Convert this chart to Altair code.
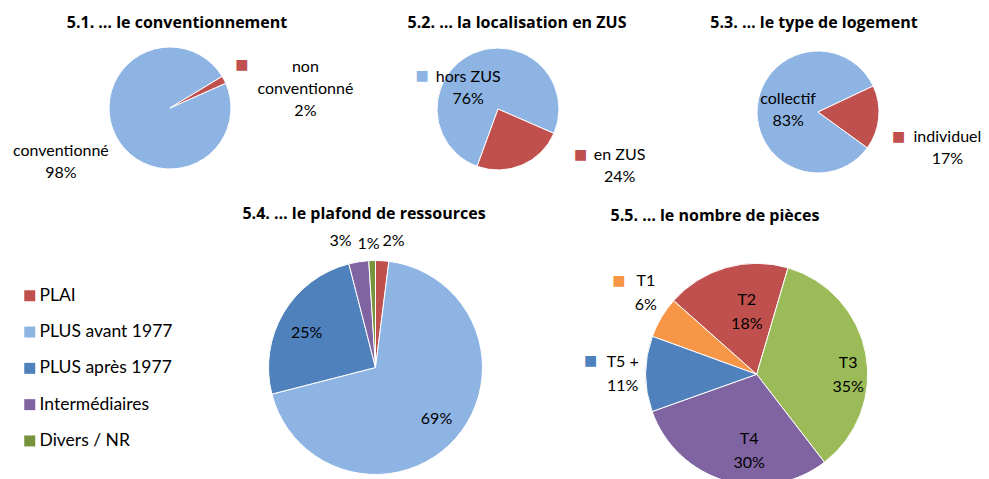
import math
import altair as alt
import pandas as pd

# ---------------- data ----------------
conv_cats = ["conventionné", "non conventionné"]
conv_vals = [98, 2]
zus_cats = ["hors ZUS", "en ZUS"]
zus_vals = [76, 24]
log_cats = ["collectif", "individuel"]
log_vals = [83, 17]
plaf_cats = ["PLAI", "PLUS avant 1977", "PLUS après 1977", "Intermédiaires", "Divers / NR"]
plaf_vals = [2, 69, 25, 3, 1]
pieces_cats = ["T1", "T2", "T3", "T4", "T5 +"]
pieces_vals = [6, 18, 35, 30, 11]
titles = [
    "5.1. … le conventionnement",
    "5.2. … la localisation en ZUS",
    "5.3.  … le type de logement",
    "5.4.  … le plafond de ressources",
    "5.5. … le nombre de pièces",
]

# ---------------- styles ----------------
LBLUE, RED, BLUE, PURPLE, GREEN, DGREEN, ORANGE = (
    "#8EB4E3", "#C0504D", "#4F81BD", "#8064A2", "#9BBB59", "#77933C", "#F79646")
FONT = "Lato"
TFONT = "Open Sans"
WRAP = {"non conventionné": "non\nconventionné"}


def make_labels(cats, vals, with_cat=True):
    out = []
    for c, v in zip(cats, vals):
        if with_cat:
            out.append(WRAP.get(c, c) + "\n" + f"{v}%")
        else:
            out.append(f"{v}%")
    return out


def pie(cats, vals, colors, cx, cy, r, start_deg, labels, label_specs,
        square_specs=(), legend=None, line_h=22):
    df = pd.DataFrame({"cat": cats, "val": vals, "idx": list(range(len(cats))),
                       "label": labels, "col": colors})
    a0 = math.radians(start_deg)
    base = alt.Chart(df).encode(
        theta=alt.Theta("val:Q", stack=True,
                        scale=alt.Scale(range=[a0, a0 + 2 * math.pi])),
        order=alt.Order("idx:Q"),
        x=alt.value(cx), y=alt.value(cy),
    )
    if legend is None:
        color = alt.Color("col:N", scale=None)
    else:
        color = alt.Color("cat:N", sort=cats,
                          scale=alt.Scale(domain=cats, range=colors),
                          legend=legend)
    layers = [base.mark_arc(outerRadius=r, stroke="white", strokeWidth=1).encode(color=color)]
    for cat, rad, dx, dy in label_specs:
        layers.append(
            base.mark_text(radius=rad, dx=dx, dy=dy, font=FONT, fontSize=16,
                           lineBreak="\n", lineHeight=line_h, align="center",
                           baseline="middle", color="#000000").encode(
                text=alt.condition(alt.datum.cat == cat, alt.Text("label:N"), alt.value(""))
            )
        )
    for cat, rad, dx, dy in square_specs:
        layers.append(
            base.mark_text(radius=rad, dx=dx, dy=dy, font="DejaVu Sans", fontSize=14,
                           align="center", baseline="middle").encode(
                text=alt.condition(alt.datum.cat == cat, alt.value("■"), alt.value("")),
                color=alt.Color("col:N", scale=None),
            )
        )
    return alt.layer(*layers)


def title(txt, x, y):
    return alt.Chart(pd.DataFrame({"t": [txt]})).mark_text(
        font=TFONT, fontSize=16, fontWeight="bold", align="center",
        baseline="alphabetic", color="#000000").encode(
        text="t:N", x=alt.value(x), y=alt.value(y))


p1 = pie(conv_cats, conv_vals, [LBLUE, RED], 170, 108, 61, 66,
         make_labels(conv_cats, conv_vals),
         [("conventionné", 122, -1, -14), ("non conventionné", 137, 14, 22)],
         [("non conventionné", 81, 0, -5)])
p2 = pie(zus_cats, zus_vals, [LBLUE, RED], 498, 109, 61, 200,
         make_labels(zus_cats, zus_vals),
         [("hors ZUS", 25, -20, -9), ("en ZUS", 70, 94, -18)],
         [("hors ZUS", 25, -66, -10), ("en ZUS", 70, 55, -18)])
p3 = pie(log_cats, log_vals, [LBLUE, RED], 818, 112, 61, 126,
         make_labels(log_cats, log_vals),
         [("collectif", 30, 0, -10), ("individuel", 130, 0, 13)],
         [("individuel", 81, 0, 17)])
leg = alt.Legend(title=None, orient="none", legendX=21, legendY=287,
                 symbolType="square", symbolSize=121, symbolStrokeWidth=0,
                 labelFont=FONT, labelFontSize=17.5, labelColor="#000000",
                 rowPadding=17.3, labelOffset=1)
p4 = pie(plaf_cats, plaf_vals, [RED, LBLUE, BLUE, PURPLE, DGREEN], 375.5, 367.5, 107, 0,
         make_labels(plaf_cats, plaf_vals, with_cat=False),
         [("PLAI", 127, 10, 0), ("PLUS avant 1977", 80, 1, -1),
          ("PLUS après 1977", 80, 0, 6), ("Intermédiaires", 128, -15, 0),
          ("Divers / NR", 124, -3, 0)],
         legend=leg)
p5 = pie(pieces_cats, pieces_vals, [ORANGE, RED, GREEN, PURPLE, BLUE], 756.7, 374.3, 111, 290,
         make_labels(pieces_cats, pieces_vals),
         [("T1", 150, 18, -16), ("T2", 65, 8, -12), ("T3", 93, 0, 6),
          ("T4", 80, 15, -12), ("T5 +", 134, 0, -12)],
         [("T1", 150, -9, -16), ("T5 +", 134, -32, -13)], line_h=24)

t = [title(titles[0], 177, 28), title(titles[1], 517, 28), title(titles[2], 814, 28),
     title(titles[3], 364, 219), title(titles[4], 715, 221)]

chart = alt.layer(p1, p2, p3, p4, p5, *t).resolve_scale(
    theta="independent", color="independent"
).properties(
    width=989, height=479, autosize=alt.AutoSizeParams(type="none"), padding=0,
    background="white"
).configure_view(stroke=None)

chart.save("out.html", embed_options={"renderer": "svg", "actions": False})
